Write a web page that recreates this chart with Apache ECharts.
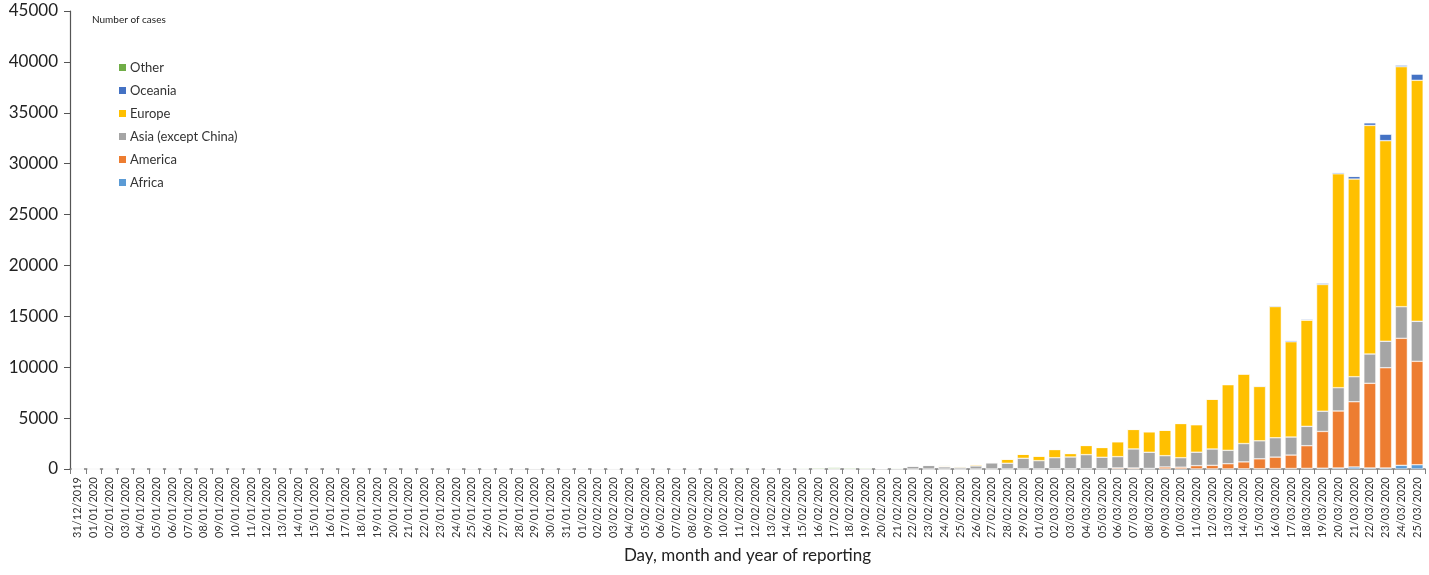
<!DOCTYPE html>
<html>
<head>
<meta charset="utf-8">
<script src="https://cdn.jsdelivr.net/npm/echarts@6/dist/echarts.min.js"></script>
<style>
html,body{margin:0;padding:0;background:#fff;}
#chart{width:1429px;height:575px;}
</style>
</head>
<body>
<div id="chart"></div>
<script>
const categories = [
"31/12/2019",
"01/01/2020","02/01/2020","03/01/2020","04/01/2020","05/01/2020","06/01/2020","07/01/2020","08/01/2020","09/01/2020","10/01/2020",
"11/01/2020","12/01/2020","13/01/2020","14/01/2020","15/01/2020","16/01/2020","17/01/2020","18/01/2020","19/01/2020","20/01/2020",
"21/01/2020","22/01/2020","23/01/2020","24/01/2020","25/01/2020","26/01/2020","27/01/2020","28/01/2020","29/01/2020","30/01/2020","31/01/2020",
"01/02/2020","02/02/2020","03/02/2020","04/02/2020","05/02/2020","06/02/2020","07/02/2020","08/02/2020","09/02/2020","10/02/2020",
"11/02/2020","12/02/2020","13/02/2020","14/02/2020","15/02/2020","16/02/2020","17/02/2020","18/02/2020","19/02/2020","20/02/2020",
"21/02/2020","22/02/2020","23/02/2020","24/02/2020","25/02/2020","26/02/2020","27/02/2020","28/02/2020","29/02/2020",
"01/03/2020","02/03/2020","03/03/2020","04/03/2020","05/03/2020","06/03/2020","07/03/2020","08/03/2020","09/03/2020","10/03/2020",
"11/03/2020","12/03/2020","13/03/2020","14/03/2020","15/03/2020","16/03/2020","17/03/2020","18/03/2020","19/03/2020","20/03/2020",
"21/03/2020","22/03/2020","23/03/2020","24/03/2020","25/03/2020"
];

const africa = [
0,
0,0,0,0,0,0,0,0,0,0,
0,0,0,0,0,0,0,0,0,0,
0,0,0,0,0,0,0,0,0,0,0,
0,0,0,0,0,0,0,0,0,0,
0,0,0,1,0,0,0,0,0,0,
0,0,0,0,0,0,1,0,1,
0,1,0,2,3,5,10,5,10,10,
10,10,10,20,30,40,50,60,80,100,
200,100,100,360,420
];

const america = [
0,
0,0,0,0,0,0,0,0,0,0,
0,0,0,0,0,0,0,0,0,1,
0,1,0,1,2,3,1,0,0,0,1,
1,1,3,0,0,0,0,0,0,0,
1,0,1,0,1,0,0,0,1,0,
1,0,0,1,3,1,5,5,10,
10,20,20,30,30,100,90,50,190,170,
320,350,510,680,970,1130,1320,2230,3610,5600,
6410,8320,9850,12480,10160
];

const asia = [
0,
0,0,0,0,0,0,0,0,0,0,
0,0,1,0,1,1,3,0,2,5,
5,8,10,15,20,25,15,15,25,20,25,
15,20,10,15,10,10,15,10,10,10,
10,10,10,15,15,10,20,20,30,60,
60,290,360,210,160,300,590,560,1040,
810,1090,1160,1380,1120,1110,1870,1590,1110,930,
1320,1605,1315,1800,1770,1900,1770,1900,1990,2290,
2460,2880,2600,3110,3930
];

const europe = [
0,
0,0,0,0,0,0,0,0,0,0,
0,0,0,0,0,0,0,0,0,0,
0,0,0,0,3,0,1,25,20,5,5,
5,5,20,0,0,5,5,10,5,5,
5,0,15,10,5,5,20,5,0,5,
5,10,30,80,90,120,60,400,400,
440,800,340,900,960,1460,1920,2010,2500,3360,
2700,4890,6445,6820,5340,12890,9360,10430,12450,21010,
19420,22460,19710,23580,23680
];

const oceania = [
0,
0,0,0,0,0,0,0,0,0,0,
0,0,0,0,0,0,0,0,0,0,
0,0,0,0,4,0,1,1,2,2,3,
2,2,0,0,0,0,0,0,0,0,
0,0,0,0,0,0,0,0,0,0,
1,1,1,0,0,0,0,1,2,
20,25,20,20,20,20,20,20,20,20,
20,25,40,50,60,80,130,110,140,120,
260,260,650,160,620
];

const other = [
0,
0,0,0,0,0,0,0,0,0,0,
0,0,0,0,0,0,0,0,0,0,
0,0,0,0,0,0,0,0,0,0,0,
0,0,0,0,10,10,41,3,6,6,
65,0,44,0,67,90,99,88,79,13,
57,0,0,57,0,0,14,0,0,
0,0,0,0,0,0,0,0,0,0,
0,0,0,0,0,0,0,0,0,0,
0,0,0,0,0
];

const seriesNames = ["Africa","America","Asia (except China)","Europe","Oceania","Other"];
const seriesData = [africa, america, asia, europe, oceania, other];
const seriesColors = ["#5B9BD5","#ED7D31","#A5A5A5","#FFC000","#4472C4","#70AD47"];
const legendOrder = ["Other","Oceania","Europe","Asia (except China)","America","Africa"];
const yTicks = {min:0, max:45000, interval:5000};

const chart = echarts.init(document.getElementById('chart'), null, {renderer:'canvas'});
const FONT = 'Lato, "Open Sans", sans-serif';

chart.setOption({
  animation:false,
  backgroundColor:'#fff',
  title:{
    text:'Number of cases',
    left:92, top:15, padding:0,
    textStyle:{fontFamily:FONT, fontSize:10, fontWeight:'normal', color:'#222'}
  },
  legend:{
    orient:'vertical',
    left:117, top:61, padding:0,
    itemWidth:9, itemHeight:9, itemGap:10,
    icon:'rect',
    data:legendOrder,
    textStyle:{fontFamily:FONT, fontSize:13, color:'#333', padding:[0,0,0,-2]}
  },
  grid:{left:70, right:4, top:11, bottom:106, containLabel:false},
  xAxis:{
    type:'category',
    data:categories,
    name:'Day, month and year of reporting',
    nameLocation:'middle',
    nameGap:78,
    nameTextStyle:{fontFamily:FONT, fontSize:17, color:'#222'},
    axisLine:{lineStyle:{color:'#7f7f7f', width:1.5}},
    axisTick:{show:true, length:5, lineStyle:{color:'#7f7f7f'}},
    axisLabel:{interval:0, rotate:90, fontFamily:FONT, fontSize:11, color:'#333', margin:8}
  },
  yAxis:{
    type:'value',
    min:yTicks.min, max:yTicks.max, interval:yTicks.interval,
    splitLine:{show:false},
    axisLine:{show:true, lineStyle:{color:'#555', width:1.2}},
    axisTick:{show:true, length:6, lineStyle:{color:'#555'}},
    axisLabel:{fontFamily:FONT, fontSize:17, color:'#222', margin:12, formatter:function(v){return String(v);}}
  },
  series: seriesNames.map((n,i)=>({
    name:n,
    type:'bar',
    stack:'total',
    data:seriesData[i],
    barWidth:12,
    itemStyle:{color:seriesColors[i], borderColor:'#ffffff', borderWidth:0.5}
  }))
});
</script>
</body>
</html>
